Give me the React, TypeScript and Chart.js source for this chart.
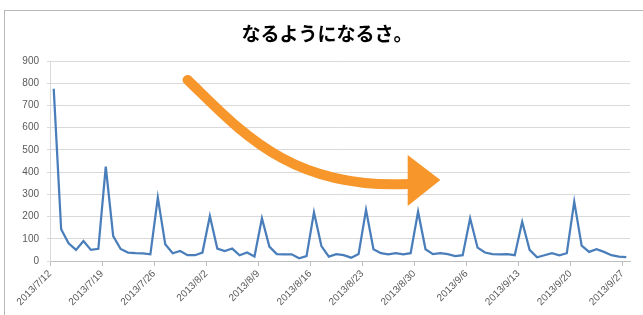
import React, { useEffect, useRef } from "react";
import { Chart, registerables } from "chart.js";

Chart.register(...registerables);

const TITLE = "なるようになるさ。";

const categories: string[] = Array.from({ length: 78 }, (_, i) => {
  const d = new Date(2013, 6, 12 + i);
  return `${d.getFullYear()}/${d.getMonth() + 1}/${d.getDate()}`;
});

const values: number[] = [
  775, 143, 80, 50, 90, 50, 55, 425, 112, 54,
  38, 35, 34, 30, 285, 75, 35, 45, 26, 26,
  38, 202, 56, 45, 56, 26, 38, 20, 192, 65,
  31, 30, 30, 12, 22, 219, 67, 20, 31, 26,
  15, 31, 230, 53, 35, 30, 35, 30, 35, 222,
  53, 31, 35, 31, 22, 26, 192, 60, 38, 31,
  30, 31, 26, 177, 50, 17, 26, 35, 26, 35,
  267, 69, 41, 53, 41, 26, 20, 17,
];

const tickIndices: number[] = [0, 7, 14, 21, 28, 35, 42, 49, 56, 63, 70, 77];

// Arrow annotation in data coordinates (index, value)
const arrowCurve: [number, number][] = [
  [18.0, 815],
  [25.0, 590],
  [31.7, 320],
  [47.8, 347],
];
const arrowHead: [number, number][] = [
  [47.6, 477],
  [52.0, 365],
  [47.6, 248],
];

const frameAndArrow = {
  id: "frameAndArrow",
  beforeDraw(chart: any) {
    const ctx = chart.ctx;
    ctx.save();
    ctx.fillStyle = "#ffffff";
    ctx.fillRect(0, 0, chart.width, chart.height);
    ctx.strokeStyle = "#b8b8b8";
    ctx.lineWidth = 1;
    ctx.strokeRect(4.5, 10.5, chart.width + 20, chart.height + 20);
    ctx.fillStyle = "#000000";
    ctx.font = "bold 19px 'Noto Sans CJK JP', sans-serif";
    ctx.textAlign = "center";
    ctx.textBaseline = "middle";
    ctx.fillText(TITLE, 327, 34);
    ctx.restore();
  },
  afterDraw(chart: any) {
    const { ctx, scales } = chart;
    const px = (p: [number, number]) => [scales.x.getPixelForValue(p[0]), scales.y.getPixelForValue(p[1])];
    const c = arrowCurve.map(px);
    ctx.save();
    ctx.strokeStyle = "#F7962B";
    ctx.fillStyle = "#F7962B";
    ctx.lineWidth = 10;
    ctx.lineCap = "round";
    ctx.beginPath();
    ctx.moveTo(c[0][0], c[0][1]);
    ctx.bezierCurveTo(c[1][0], c[1][1], c[2][0], c[2][1], c[3][0], c[3][1]);
    ctx.stroke();
    const h = arrowHead.map(px);
    ctx.beginPath();
    ctx.moveTo(h[0][0], h[0][1]);
    ctx.lineTo(h[1][0], h[1][1]);
    ctx.lineTo(h[2][0], h[2][1]);
    ctx.closePath();
    ctx.fill();
    ctx.restore();
  },
};

export default function App() {
  const ref = useRef<HTMLCanvasElement | null>(null);

  useEffect(() => {
    if (!ref.current) return;
    const chart = new Chart(ref.current, {
      type: "line",
      data: {
        datasets: [
          {
            data: values.map((v, i) => ({ x: i, y: v })),
            borderColor: "#4A7EBB",
            borderWidth: 2.25,
            pointRadius: 0,
            tension: 0,
            fill: false,
          },
        ],
      },
      options: {
        animation: false,
        responsive: false,
        devicePixelRatio: 1,
        layout: { padding: { left: 0, right: 13, top: 61, bottom: 0 } },
        plugins: {
          legend: { display: false },
          tooltip: { enabled: false },
          title: { display: false },
        },
        scales: {
          x: {
            type: "linear",
            min: -0.5,
            max: 77.5,
            afterBuildTicks: (scale: any) => {
              scale.ticks = tickIndices.map((i) => ({ value: i - 0.5 }));
            },
            afterFit: (scale: any) => {
              scale.height = 54;
            },
            ticks: {
              autoSkip: false,
              maxRotation: 45,
              minRotation: 45,
              color: "#595959",
              font: { family: "'Liberation Sans', sans-serif", size: 10 },
              padding: 2,
              callback: (v: any) => categories[Math.round(Number(v) + 0.5)] ?? "",
            },
            grid: {
              drawOnChartArea: false,
              drawTicks: true,
              tickLength: 5,
              color: "#bfbfbf",
            },
            border: { display: true, color: "#bfbfbf" },
          },
          y: {
            min: 0,
            max: 900,
            afterFit: (scale: any) => {
              scale.width = 50;
            },
            ticks: {
              stepSize: 100,
              color: "#595959",
              font: { family: "'Liberation Sans', sans-serif", size: 10 },
              padding: 8,
            },
            grid: {
              color: "#d9d9d9",
              drawTicks: true,
              tickLength: 3,
            },
            border: { display: true, color: "#d9d9d9" },
          },
        },
      },
      plugins: [frameAndArrow],
    });
    return () => chart.destroy();
  }, []);

  return (
    <div style={{ position: "absolute", left: 0, top: 0, width: 643, height: 315 }}>
      <canvas ref={ref} width={643} height={315} style={{ display: "block" }} />
    </div>
  );
}
